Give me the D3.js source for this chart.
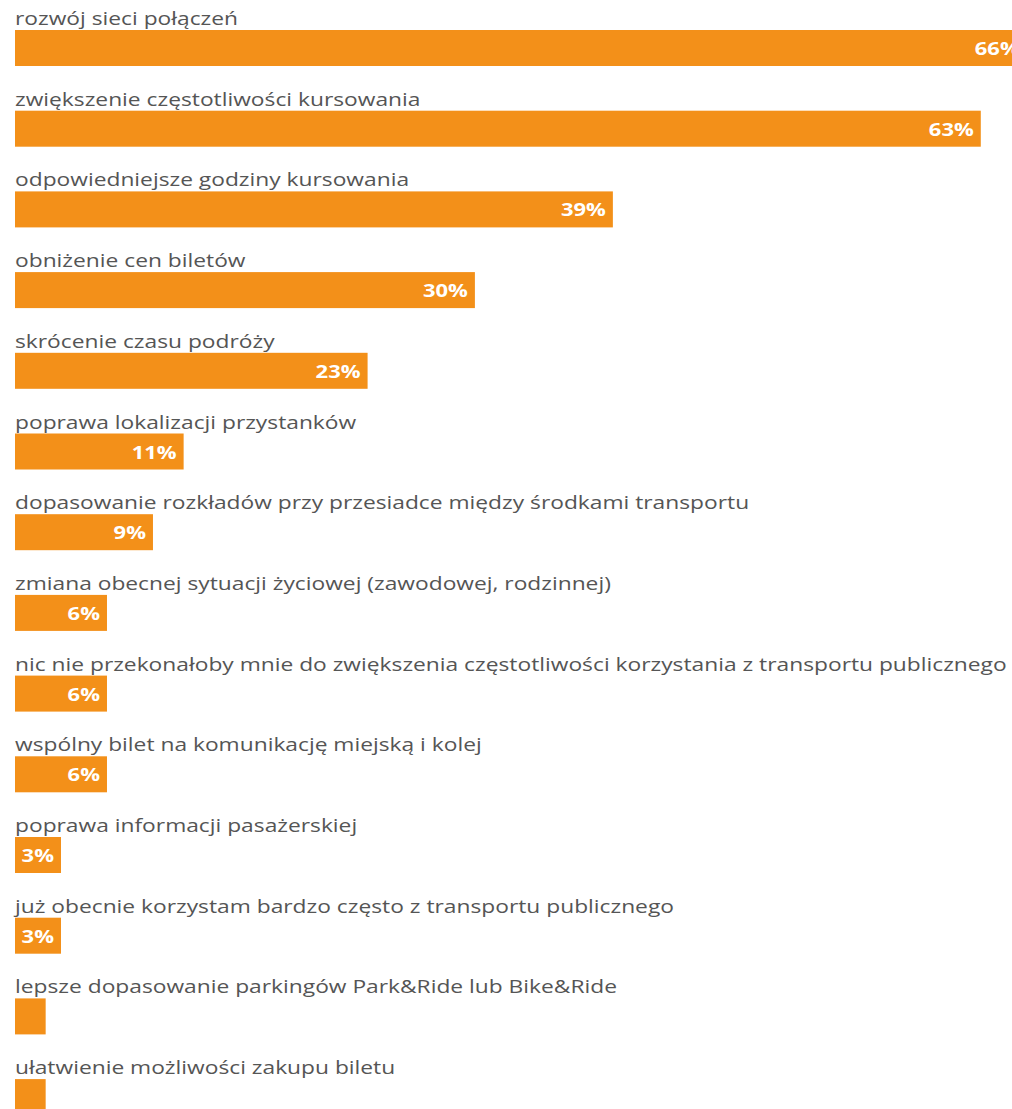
<!DOCTYPE html>
<html>
<head>
<meta charset="utf-8">
<script src="https://cdn.jsdelivr.net/npm/d3@7"></script>
<style>
  html, body { margin: 0; padding: 0; background: #fff; overflow: hidden; }
</style>
</head>
<body>
<div class="canvas"></div>
<script>
// kategorie (odpowiedzi)
var categories = [
  "rozwój sieci połączeń",
  "zwiększenie częstotliwości kursowania",
  "odpowiedniejsze godziny kursowania",
  "obniżenie cen biletów",
  "skrócenie czasu podróży",
  "poprawa lokalizacji przystanków",
  "dopasowanie rozkładów przy przesiadce między środkami transportu",
  "zmiana obecnej sytuacji życiowej (zawodowej, rodzinnej)",
  "nic nie przekonałoby mnie do zwiększenia częstotliwości korzystania z transportu publicznego",
  "wspólny bilet na komunikację miejską i kolej",
  "poprawa informacji pasażerskiej",
  "już obecnie korzystam bardzo często z transportu publicznego",
  "lepsze dopasowanie parkingów Park&Ride lub Bike&Ride",
  "ułatwienie możliwości zakupu biletu"
];
// wartości w %
var values = [66, 63, 39, 30, 23, 11, 9, 6, 6, 6, 3, 3, 2, 2];

var width = 1012, height = 1109;
var rowH = 80.7;

var svg = d3.select(".canvas").append("svg")
  .attr("width", width)
  .attr("height", height)
  .style("display", "block");

var x = d3.scaleLinear()
  .domain([0, 66])
  .range([15, 15 + 66 * 15.33]);

var y = d3.scaleBand()
  .domain(categories)
  .range([0, categories.length * rowH])
  .padding(0);

var dataset = categories.map(function(c, i) { return [c, values[i]]; });

var g = svg.selectAll("g.row")
  .data(dataset)
  .enter()
  .append("g")
  .attr("class", "row");

// słupki
g.append("rect")
  .attr("x", x(0))
  .attr("y", function(d) { return y(d[0]) + 30; })
  .attr("width", function(d) { return x(d[1]) - x(0); })
  .attr("height", 36)
  .attr("fill", "#f39019");

// etykiety kategorii
var labels = g.append("text")
  .text(function(d) { return d[0]; })
  .attr("fill", "#555")
  .style("font-family", "'Open Sans', sans-serif")
  .style("font-size", "19px");

// rozciągnięcie w poziomie tak jak na obrazku
var maxW = d3.max(labels.nodes(), function(n) { return n.getComputedTextLength(); });
var sx = 992 / maxW;
labels.attr("transform", function(d) {
  return "translate(" + x(0) + "," + (y(d[0]) + 25) + ") scale(" + sx + ",1)";
});

// wartości w słupkach (tylko >= 3%)
var vals = g.filter(function(d) { return d[1] >= 3; })
  .append("text")
  .text(function(d) { return d[1] + "%"; })
  .attr("fill", "#fff")
  .attr("text-anchor", "end")
  .style("font-family", "'Open Sans', sans-serif")
  .style("font-weight", "bold")
  .style("font-size", "18px");

var w63 = vals.filter(function(d) { return d[1] === 63; }).node().getComputedTextLength();
var sv = 45 / w63;
vals.attr("transform", function(d) {
  return "translate(" + (x(d[1]) - 7) + "," + (y(d[0]) + 55) + ") scale(" + sv + ",1)";
});
</script>
</body>
</html>
